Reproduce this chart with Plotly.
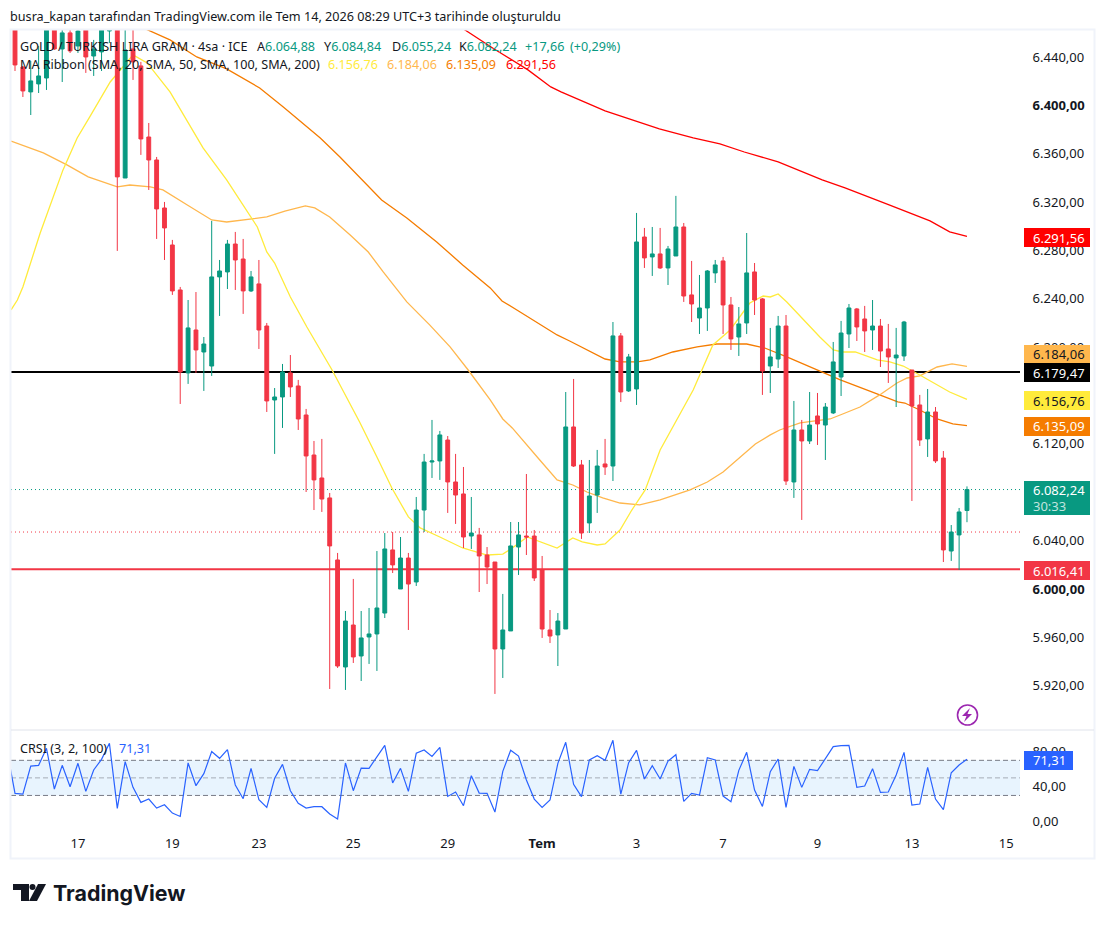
import plotly.graph_objects as go

# candles, oldest first (4h bars, index 0..121)
opens = [
    6470.6, 6431.7, 6411.1, 6417.7, 6422.6, 6470.6, 6446.6, 6459.9, 6449.1, 6470.6,
    6440.8, 6444.2, 6461.5, 6472.3, 6339.9, 6446.6, 6432.6, 6373.8, 6354.8, 6315.1,
    6284.5, 6247.3, 6178.7, 6214.2, 6196.0, 6184.4, 6258.1, 6262.2, 6285.3, 6272.9,
    6246.5, 6252.3, 6217.5, 6156.3, 6158.8, 6178.7, 6167.9, 6143.9, 6110.8, 6091.8,
    6075.3, 6024.0, 5935.5, 5970.2, 5944.6, 5960.3, 5962.8, 5980.1, 6032.3, 6000.0,
    6025.6, 6005.8, 6065.3, 6105.0, 6105.9, 6123.2, 6088.5, 6078.6, 6043.8, 6044.7,
    6028.1, 6022.3, 5950.4, 5965.3, 6034.7, 6043.8, 6043.8, 6015.7, 5966.1, 5962.0,
    5966.9, 6134.0, 6102.6, 6054.6, 6077.7, 6103.4, 6101.7, 6209.3, 6163.8, 6165.4,
    6291.1, 6274.6, 6277.1, 6265.5, 6275.4, 6299.4, 6243.2, 6224.1, 6232.4, 6261.4,
    6271.3, 6234.9, 6208.4, 6220.0, 6262.2, 6239.9, 6184.4, 6190.2, 6217.5, 6088.5,
    6131.5, 6122.4, 6143.1, 6135.6, 6145.6, 6175.3, 6210.9, 6231.6, 6223.3, 6214.2,
    6217.5, 6198.5, 6191.1, 6192.7, 6181.1, 6152.2, 6124.1, 6146.4, 6108.3, 6031.4,
    6044.7, 6064.88,
]
highs = [
    6474.8, 6432.6, 6436.7, 6449.1, 6474.8, 6474.8, 6470.6, 6466.5, 6470.6, 6474.8,
    6454.1, 6474.8, 6478.9, 6478.9, 6466.5, 6466.5, 6435.9, 6385.4, 6357.3, 6320.1,
    6288.7, 6249.8, 6239.0, 6245.6, 6208.4, 6304.4, 6272.1, 6288.7, 6295.3, 6289.5,
    6263.0, 6272.1, 6220.0, 6166.2, 6186.1, 6193.5, 6172.9, 6148.9, 6122.4, 6124.1,
    6079.4, 6029.8, 5981.8, 6008.3, 5981.8, 5984.3, 6031.4, 6046.3, 6047.1, 6043.0,
    6029.8, 6076.1, 6111.7, 6139.8, 6130.7, 6126.5, 6111.7, 6100.9, 6076.1, 6050.5,
    6034.7, 6022.3, 5995.9, 6055.4, 6055.4, 6095.1, 6048.8, 6027.3, 5982.6, 5980.1,
    6162.9, 6173.7, 6106.7, 6106.7, 6115.0, 6124.1, 6220.8, 6211.7, 6194.4, 6311.0,
    6298.6, 6299.4, 6298.6, 6283.7, 6325.1, 6302.7, 6271.3, 6259.7, 6263.8, 6272.1,
    6274.6, 6241.5, 6233.2, 6294.4, 6269.6, 6240.7, 6215.9, 6225.8, 6226.6, 6155.5,
    6139.8, 6162.9, 6162.1, 6153.8, 6204.3, 6221.7, 6235.7, 6232.4, 6234.1, 6239.0,
    6223.3, 6219.2, 6215.9, 6221.7, 6181.1, 6160.5, 6165.4, 6150.5, 6114.1, 6052.9,
    6067.0, 6084.84,
]
lows = [
    6428.4, 6406.9, 6392.0, 6410.2, 6412.7, 6445.8, 6419.3, 6443.3, 6443.3, 6426.8,
    6424.3, 6428.4, 6451.6, 6279.6, 6339.9, 6421.0, 6359.0, 6330.0, 6289.5, 6272.1,
    6243.2, 6153.0, 6169.6, 6178.7, 6163.8, 6176.2, 6225.8, 6248.1, 6247.3, 6227.5,
    6245.6, 6198.5, 6146.4, 6111.7, 6133.2, 6158.8, 6131.5, 6080.2, 6065.3, 6063.7,
    5917.3, 5934.7, 5916.5, 5938.8, 5923.9, 5938.0, 5932.2, 5976.0, 6013.2, 6000.0,
    5966.1, 6002.5, 6047.1, 6091.8, 6090.2, 6062.9, 6053.8, 6033.9, 6033.1, 5997.5,
    6004.1, 5913.2, 5926.4, 5965.3, 6011.6, 6028.1, 6006.6, 5959.5, 5955.3, 5936.3,
    5966.9, 6100.9, 6041.4, 6046.3, 6062.9, 6094.3, 6089.3, 6154.7, 6162.9, 6152.2,
    6265.5, 6258.9, 6264.7, 6251.4, 6275.4, 6237.4, 6220.8, 6210.9, 6213.4, 6253.1,
    6210.9, 6197.7, 6192.7, 6210.9, 6226.6, 6160.5, 6162.1, 6182.8, 6086.0, 6075.3,
    6057.1, 6119.9, 6119.1, 6106.7, 6144.7, 6159.6, 6199.3, 6205.1, 6196.0, 6197.7,
    6183.6, 6170.4, 6150.5, 6188.6, 6072.8, 6118.3, 6109.2, 6104.2, 6022.3, 6023.2,
    6015.7, 6055.24,
]
closes = [
    6433.4, 6411.9, 6420.2, 6424.3, 6470.6, 6446.6, 6459.9, 6445.0, 6461.5, 6440.0,
    6446.6, 6470.6, 6472.3, 6340.8, 6445.8, 6435.9, 6372.2, 6354.8, 6314.3, 6298.6,
    6246.5, 6179.5, 6215.9, 6197.7, 6202.6, 6258.1, 6263.0, 6285.3, 6272.1, 6246.5,
    6258.1, 6214.2, 6155.5, 6158.8, 6179.5, 6167.1, 6140.6, 6110.0, 6090.2, 6074.4,
    6035.6, 5936.3, 5973.5, 5943.8, 5959.5, 5962.8, 5984.3, 6033.1, 6019.9, 6025.6,
    6004.1, 6065.3, 6105.0, 6105.9, 6127.4, 6088.5, 6077.7, 6043.0, 6046.3, 6027.3,
    6018.2, 5950.4, 5966.1, 6035.6, 6044.7, 6043.0, 6009.1, 5966.9, 5961.1, 5973.5,
    6134.0, 6101.7, 6046.3, 6076.9, 6101.7, 6100.9, 6209.3, 6162.9, 6191.9, 6287.0,
    6273.8, 6277.1, 6265.5, 6281.2, 6299.4, 6242.3, 6235.7, 6232.4, 6263.0, 6268.0,
    6234.9, 6206.8, 6219.2, 6261.4, 6239.0, 6180.3, 6191.9, 6217.5, 6089.3, 6131.5,
    6122.4, 6135.6, 6136.5, 6150.5, 6187.8, 6211.7, 6232.4, 6216.7, 6213.4, 6217.5,
    6196.8, 6191.9, 6193.5, 6220.8, 6151.4, 6123.2, 6146.4, 6105.9, 6032.3, 6047.1,
    6063.7, 6082.24,
]
candle_x = list(range(len(opens)))

ma20_x = [-0.5, 0.3, 1.0, 3.2, 6.1, 7.9, 9.5, 12.1, 15.0, 16.8, 19.7, 23.9, 26.9, 30.8, 32.0,
          33.0, 35.0, 37.1, 40.3, 43.8, 46.0, 47.9, 50.0, 51.5, 54.0, 56.9, 60.0, 62.0, 63.2,
          65.1, 68.9, 70.9, 72.1, 74.0, 75.0, 76.9, 78.4, 80.1, 82.0, 84.1, 86.2, 88.7, 90.9,
          93.4, 95.1, 96.0, 97.0, 98.1, 100.2, 102.3, 104.0, 105.2, 106.8, 109.6, 111.2,
          112.9, 115.0, 116.9, 118.8, 121]
ma20 = [6230.8, 6239.0, 6249.8, 6294.4, 6346.6, 6373.0, 6390.4, 6419.3, 6441.7, 6435.1, 6411.1,
        6364.8, 6338.3, 6299.4, 6278.7, 6269.6, 6241.5, 6216.7, 6181.1, 6138.1, 6109.2, 6083.5,
        6059.6, 6050.5, 6043.0, 6033.9, 6028.1, 6028.9, 6033.9, 6043.0, 6033.9, 6042.2, 6038.9,
        6036.4, 6037.2, 6048.8, 6065.3, 6081.9, 6115.0, 6139.8, 6164.6, 6201.8, 6214.2, 6236.5,
        6242.3, 6241.5, 6244.0, 6237.4, 6222.5, 6208.4, 6197.7, 6196.0, 6196.0, 6189.4, 6187.8,
        6184.4, 6177.0, 6169.6, 6162.9, 6156.76]

ma50_x = [-0.5, 3.6, 6.6, 9.3, 13.0, 14.6, 17.2, 18.8, 21.9, 25.0, 26.9, 29.9, 32.0, 34.3, 36.9,
          38.1, 40.0, 42.6, 44.9, 46.8, 49.8, 52.7, 55.3, 57.6, 60.4, 62.0, 63.2, 66.7, 68.9,
          70.9, 72.7, 74.7, 76.9, 79.4, 82.0, 85.8, 88.0, 90.0, 92.1, 94.1, 96.0, 97.2, 99.8,
          103.6, 105.2, 107.4, 109.9, 112.1, 113.4, 115.0, 117.2, 119.1, 121]
ma50 = [6370.5, 6360.6, 6350.7, 6340.8, 6332.5, 6334.1, 6332.5, 6330.0, 6317.6, 6305.2, 6303.5,
        6306.0, 6307.7, 6312.6, 6316.8, 6315.1, 6307.7, 6292.8, 6278.7, 6262.2, 6237.4, 6218.4,
        6200.2, 6181.1, 6156.3, 6140.6, 6133.2, 6106.7, 6090.2, 6086.0, 6080.2, 6075.3, 6071.1,
        6069.5, 6073.6, 6081.9, 6088.5, 6096.8, 6108.3, 6119.9, 6127.4, 6131.5, 6137.3, 6140.6,
        6144.7, 6150.5, 6160.5, 6170.4, 6174.5, 6176.2, 6183.6, 6186.1, 6184.06]

ma100_x = [14.6, 16.8, 19.7, 23.1, 26.9, 31.1, 34.1, 38.8, 41.3, 46.6, 49.8, 53.6, 54.7, 56.9,
           60.4, 61.9, 64.2, 68.9, 70.5, 73.5, 75.0, 76.9, 79.1, 80.7, 83.6, 86.7, 89.2, 93.0,
           95.3, 98.1, 101.9, 104.9, 109.9, 112.2, 113.1, 115.0, 117.2, 119.2, 121]
ma100 = [6469.0, 6462.3, 6454.1, 6440.0, 6430.1, 6414.4, 6398.7, 6373.0, 6357.3, 6321.7, 6306.9,
         6287.0, 6280.4, 6268.0, 6249.0, 6238.2, 6229.1, 6210.1, 6205.1, 6195.2, 6190.2, 6187.8,
         6187.8, 6189.4, 6196.0, 6200.2, 6202.6, 6202.6, 6199.3, 6191.9, 6181.1, 6172.9, 6160.5,
         6154.7, 6153.8, 6148.0, 6140.6, 6136.5, 6135.09]

ma200_x = [55.3, 57.2, 60.9, 65.2, 68.1, 69.4, 75.0, 81.9, 86.2, 89.6, 92.7, 97.0, 102.6, 105.5,
           111.1, 116.3, 118.8, 121]
ma200 = [6469.8, 6462.3, 6446.6, 6429.3, 6415.2, 6411.1, 6395.4, 6380.5, 6373.0, 6368.1, 6361.4,
         6353.2, 6338.3, 6331.7, 6317.6, 6304.4, 6295.3, 6291.56]

# CRSI (3, 2, 100), starts one bar left of the visible window
crsi = [
    80.0,
    32.4, 31.6, 63.5, 64.3, 83.7, 37.3, 64.3, 39.9, 66.6, 34.6,
    59.0, 71.1, 89.4, 15.3, 68.5, 39.2, 22.1, 25.9, 15.6, 19.4,
    9.9, 6.1, 67.0, 41.1, 54.8, 79.9, 72.3, 82.1, 41.9, 26.3,
    60.9, 25.2, 16.4, 49.5, 65.4, 35.4, 21.0, 15.6, 17.2, 17.2,
    8.8, 3.1, 67.0, 35.4, 61.2, 60.9, 73.4, 87.1, 44.2, 60.9,
    34.6, 78.0, 81.8, 74.5, 84.8, 28.9, 33.9, 18.3, 52.5, 32.7,
    32.4, 11.1, 57.4, 81.4, 74.9, 47.6, 25.9, 16.4, 24.8, 66.6,
    90.5, 42.6, 28.6, 70.4, 75.3, 70.0, 92.8, 31.6, 67.3, 81.4,
    48.7, 63.9, 48.7, 69.2, 76.4, 23.2, 32.4, 30.5, 73.0, 70.4,
    29.3, 22.9, 58.6, 79.1, 36.2, 17.5, 57.1, 71.5, 16.4, 63.1,
    39.2, 59.7, 58.2, 72.3, 85.6, 86.7, 87.1, 39.2, 40.7, 60.5,
    33.5, 33.9, 53.3, 79.1, 19.1, 20.2, 62.0, 25.9, 13.8, 55.9,
    64.7, 71.31,
]
crsi_x = list(range(-1, 122))

date_pos = [8, 20, 31, 43, 55, 67, 79, 90, 102, 114, 126]
date_labels = ["17", "19", "23", "25", "29", "<b>Tem</b>", "3", "7", "9", "13", "15"]

# 6.080 and 6.160 sit fully behind the price tags in the original, so they are left out
price_ticks = [5920, 5960, 6000, 6040, 6120, 6200, 6240, 6280, 6320, 6360, 6400, 6440]
price_tick_text = ["5.920,00", "5.960,00", "<b>6.000,00</b>", "6.040,00", "6.120,00",
                   "6.200,00", "6.240,00", "6.280,00", "6.320,00", "6.360,00", "<b>6.400,00</b>", "6.440,00"]
crsi_ticks = [0, 40, 80]
crsi_tick_text = ["0,00", "40,00", "80,00"]

GREEN = "#089981"
RED = "#F23645"
YELLOW = "#FFEB3B"
LIGHT_ORANGE = "#FFB74D"
ORANGE = "#F57C00"
MA_RED = "#FF0000"
BLUE = "#2962FF"
INK = "#131722"
FONT = "Noto Sans"
W, H = 1106, 925


def fx(px):
    return px / W


def fy(px):
    return 1 - px / H


def label(px, py, text, size=12.6, color=INK, anchor="left"):
    fig.add_annotation(xref="paper", yref="paper", x=fx(px), y=fy(py), text=text, showarrow=False,
                       xanchor=anchor, yanchor="middle", align="left", borderpad=0, borderwidth=0,
                       font=dict(family=FONT, size=size, color=color))


def paper_rect(x0, y0, x1, y1, fill, line=None, width=0):
    fig.add_shape(type="rect", xref="paper", yref="paper", x0=fx(x0), x1=fx(x1), y0=fy(y0), y1=fy(y1),
                  fillcolor=fill, line=dict(color=line, width=width), layer="above")


def hline(yref, value, color, width, dash="solid"):
    fig.add_shape(type="line", xref="x domain", yref=yref, x0=0, x1=1, y0=value, y1=value,
                  line=dict(color=color, width=width, dash=dash), layer="below")


fig = go.Figure()

for xs, ys, color in [(ma200_x, ma200, MA_RED), (ma100_x, ma100, ORANGE),
                      (ma50_x, ma50, LIGHT_ORANGE), (ma20_x, ma20, YELLOW)]:
    fig.add_trace(go.Scatter(x=xs, y=ys, mode="lines", yaxis="y", line=dict(color=color, width=1.3),
                             hoverinfo="skip"))

# candles go on an overlay axis so that they sit on top of the MA lines
fig.add_trace(go.Candlestick(x=candle_x, open=opens, high=highs, low=lows, close=closes, yaxis="y3",
                             whiskerwidth=0,
                             increasing=dict(line=dict(color=GREEN, width=1), fillcolor=GREEN),
                             decreasing=dict(line=dict(color=RED, width=1), fillcolor=RED)))

fig.add_trace(go.Scatter(x=crsi_x, y=crsi, mode="lines", yaxis="y2", line=dict(color=BLUE, width=1.2),
                         hoverinfo="skip"))

price_range = [5884.2, 6462.3]
fig.update_layout(
    width=W, height=H, margin=dict(l=0, r=0, t=0, b=0), showlegend=False, boxgap=0.3,
    paper_bgcolor="white", plot_bgcolor="white",
    font=dict(family=FONT, size=13, color=INK),
    xaxis=dict(domain=[fx(11), fx(1020)], range=[-0.51, 127.74], anchor="y2", showgrid=False, zeroline=False,
               showline=False, tickmode="array", tickvals=date_pos, ticktext=date_labels,
               ticks="outside", ticklen=1, tickcolor="white", rangeslider=dict(visible=False)),
    yaxis=dict(domain=[fy(729), fy(30)], range=price_range, side="right", anchor="x", showgrid=False,
               zeroline=False, showline=False, tickmode="array", tickvals=price_ticks,
               ticktext=price_tick_text, ticks="outside", ticklen=9, tickcolor="white"),
    yaxis2=dict(domain=[fy(830), fy(731)], range=[-9.35, 103.4], side="right", anchor="x", showgrid=False,
                zeroline=False, showline=False, tickmode="array", tickvals=crsi_ticks,
                ticktext=crsi_tick_text, ticks="outside", ticklen=9, tickcolor="white"),
    yaxis3=dict(range=price_range, overlaying="y", side="right", visible=False),
)

# CRSI band
fig.add_shape(type="rect", xref="x domain", yref="y2", x0=0, x1=1, y0=30, y1=70,
              fillcolor="rgba(33,150,243,0.1)", line=dict(width=0), layer="below")
hline("y2", 70, "#787B86", 1, "5px,3px")
hline("y2", 50, "rgba(120,123,134,0.6)", 1, "5px,3px")
hline("y2", 30, "#787B86", 1, "5px,3px")

# price levels
hline("y", 6179.47, "#000000", 2)
hline("y", 6016.41, RED, 2)
hline("y", 6082.24, GREEN, 1, "1px,3px")
hline("y", 6047.1, RED, 1, "1px,3px")

# frame and pane divider
fig.add_shape(type="rect", xref="paper", yref="paper", x0=fx(10.5), x1=fx(1094.5), y0=fy(858.5), y1=fy(29.5),
              line=dict(color="#F0F3FA", width=2), layer="above")
fig.add_shape(type="line", xref="paper", yref="paper", x0=fx(11), x1=fx(1094), y0=fy(730), y1=fy(730),
              line=dict(color="#E0E3EB", width=1), layer="above")

# price scale tags
tags = [(228, 247, "6.291,56", MA_RED, "white"), (345, 363, "6.184,06", LIGHT_ORANGE, INK),
        (363, 382, "6.179,47", "#000000", "white"), (391, 410, "6.156,76", YELLOW, INK),
        (417, 436, "6.135,09", ORANGE, "white"), (561, 580, "6.016,41", RED, "white")]
for top, bottom, text, fill, ink in tags:
    paper_rect(1024, top, 1090, bottom, fill)
    label(1033, (top + bottom) / 2, text, size=13, color=ink)
paper_rect(1024, 481, 1090, 515, GREEN)
label(1033, 490, "6.082,24", size=13, color="white")
label(1033, 506, "30:33", size=13, color="rgba(255,255,255,0.75)")
paper_rect(1024, 751, 1073, 770, BLUE)
label(1033, 760, "71,31", size=13, color="white")

# header and legends
label(10, 16, "busra_kapan tarafından TradingView.com ile Tem 14, 2026 08:29 UTC+3 tarihinde oluşturuldu", size=12.65)
label(20, 46, "GOLD / TURKISH LIRA GRAM · 4sa · ICE")
ohlc_legend = [(257, "A", "6.064,88"), (324, "Y", "6.084,84"), (392, "D", "6.055,24"), (459, "K", "6.082,24")]
for px, key, value in ohlc_legend:
    label(px, 46, f"{key}<span style='color:{GREEN}'>{value}</span>")
label(525, 46, "+17,66", color=GREEN)
label(570, 46, "(+0,29%)", color=GREEN)
label(20, 65, "MA Ribbon (SMA, 20, SMA, 50, SMA, 100, SMA, 200)")
for px, text, color in [(328, "6.156,76", YELLOW), (387, "6.184,06", LIGHT_ORANGE),
                        (446, "6.135,09", ORANGE), (506, "6.291,56", MA_RED)]:
    label(px, 65, text, color=color)
label(20, 748, "CRSI (3, 2, 100)")
label(119, 748, "71,31", color=BLUE)

# purple lightning badge
fig.add_shape(type="circle", xref="paper", yref="paper", x0=fx(957.5), x1=fx(977.5), y0=fy(725), y1=fy(705),
              line=dict(color="#9C27B0", width=1.6), fillcolor="white", layer="above")
bolt = [(970, 708), (962, 716), (966.5, 716), (964, 722), (972, 714), (967.5, 714)]
fig.add_shape(type="path", xref="paper", yref="paper", layer="above", fillcolor="#9C27B0", line=dict(width=0),
              path="M " + " L ".join(f"{fx(a)},{fy(b)}" for a, b in bolt) + " Z")

# TradingView logo
logo_t = [(13, 884), (29, 884), (29, 901), (21, 901), (21, 890), (13, 890)]
logo_slash = [(38, 884), (46, 884), (37, 901), (29, 901)]
for poly in (logo_t, logo_slash):
    fig.add_shape(type="path", xref="paper", yref="paper", layer="above", fillcolor=INK, line=dict(width=0),
                  path="M " + " L ".join(f"{fx(a)},{fy(b)}" for a, b in poly) + " Z")
fig.add_shape(type="circle", xref="paper", yref="paper", x0=fx(29.5), x1=fx(35.5), y0=fy(890), y1=fy(884),
              fillcolor=INK, line=dict(width=0), layer="above")
fig.add_annotation(xref="paper", yref="paper", x=fx(52), y=fy(893), text="<b>TradingView</b>", showarrow=False,
                   xanchor="left", yanchor="middle", borderpad=0, font=dict(family="Inter", size=21.4, color=INK))

fig.write_html("out.html", config={"displayModeBar": False},
               post_script="document.body.style.margin='0';")
